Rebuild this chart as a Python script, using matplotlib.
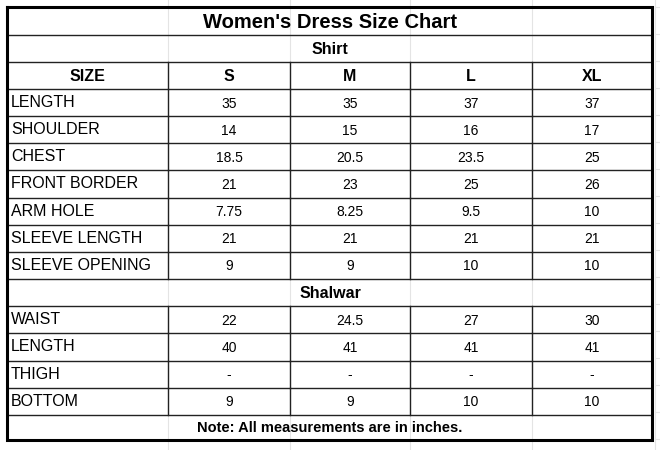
import matplotlib
matplotlib.use('agg')
import matplotlib.pyplot as plt

title = "Women's Dress Size Chart"
sizes = ["S", "M", "L", "XL"]
shirt_labels = ["LENGTH", "SHOULDER", "CHEST", "FRONT BORDER", "ARM HOLE",
                "SLEEVE LENGTH", "SLEEVE OPENING"]
shirt_values = [
    ["35", "35", "37", "37"],
    ["14", "15", "16", "17"],
    ["18.5", "20.5", "23.5", "25"],
    ["21", "23", "25", "26"],
    ["7.75", "8.25", "9.5", "10"],
    ["21", "21", "21", "21"],
    ["9", "9", "10", "10"],
]
shalwar_labels = ["WAIST", "LENGTH", "THIGH", "BOTTOM"]
shalwar_values = [
    ["22", "24.5", "27", "30"],
    ["40", "41", "41", "41"],
    ["-", "-", "-", "-"],
    ["9", "9", "10", "10"],
]
note = "Note: All measurements are in inches."

# layout in pixels
cols = [7, 168, 290, 410, 532, 652]
left, right = cols[0], cols[-1]
top, bottom = 7, 440

fig = plt.figure(figsize=(6.6, 4.5), dpi=100)
ax = fig.add_axes([0, 0, 1, 1])
ax.set_xlim(0, 660)
ax.set_ylim(450, 0)
ax.axis('off')

# faint spreadsheet grid behind
for x in [168, 290, 410, 532, 655]:
    ax.plot([x, x], [0, 450], color='#e4e4e4', lw=0.8, zorder=0)
for y in range(7, 450, 27):
    ax.plot([655, 660], [y, y], color='#e4e4e4', lw=0.8, zorder=0)

line = dict(color='#222222', lw=1.0, zorder=2)
fs = 11.5

def hline(y):
    ax.plot([left, right], [y, y], **line)

def data_row(y0, y1, label, vals):
    hline(y1)
    for x in cols[1:-1]:
        ax.plot([x, x], [y0, y1], **line)
    yc = (y0 + y1) / 2
    ax.text(left + 4, yc, label, va='center', ha='left', fontsize=fs,
            family='Liberation Sans')
    for i, v in enumerate(vals):
        ax.text((cols[i + 1] + cols[i + 2]) / 2, yc + 1, v, va='center',
                ha='center', fontsize=10, family='Liberation Sans')

# title
ax.text(330, (7 + 35) / 2 + 1, title, ha='center', va='center', fontsize=14.5,
        fontweight='bold', family='Liberation Sans')
hline(35)
ax.text(330, (35 + 62) / 2 + 1, "Shirt", ha='center', va='center', fontsize=11.5,
        fontweight='bold', family='Liberation Sans')
hline(62)
# header
for x in cols[1:-1]:
    ax.plot([x, x], [62, 89], **line)
for i, s in enumerate(["SIZE"] + sizes):
    ax.text((cols[i] + cols[i + 1]) / 2, (62 + 89) / 2 + 1, s, ha='center',
            va='center', fontsize=11.5, fontweight='bold', family='Liberation Sans')
hline(89)

rh = (279 - 89) / len(shirt_labels)
y = 89
for lab, vals in zip(shirt_labels, shirt_values):
    data_row(y, y + rh, lab, vals)
    y += rh

ax.text(330, (279 + 306) / 2 + 1, "Shalwar", ha='center', va='center', fontsize=11.5,
        fontweight='bold', family='Liberation Sans')
hline(306)
rh2 = (415 - 306) / len(shalwar_labels)
y = 306
for lab, vals in zip(shalwar_labels, shalwar_values):
    data_row(y, y + rh2, lab, vals)
    y += rh2

ax.text(330, (415 + 440) / 2, note, ha='center', va='center', fontsize=10.5,
        fontweight='bold', family='Liberation Sans')

# thick outer border
ax.plot([left, right, right, left, left], [top, top, bottom, bottom, top],
        color='black', lw=2.2, zorder=3, solid_joinstyle='miter')

fig.savefig('out.png', dpi=100, facecolor='white')
